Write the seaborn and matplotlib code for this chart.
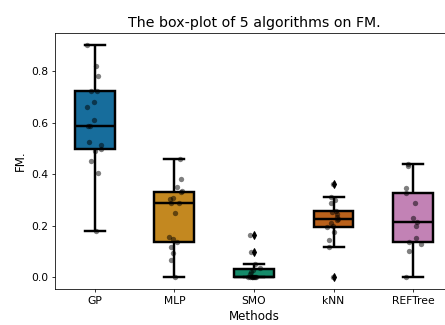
import numpy as np
import pandas as pd
import matplotlib
matplotlib.use("Agg")
import matplotlib.pyplot as plt
import seaborn as sns

methods = ["GP", "MLP", "SMO", "kNN", "REFTree"]
gp = [0.181, 0.403, 0.45, 0.488, 0.496, 0.514, 0.523, 0.585, 0.588, 0.61,
      0.66, 0.678, 0.722, 0.724, 0.78, 0.818, 0.902]
mlp = [0.0, 0.068, 0.093, 0.119, 0.136, 0.149, 0.155, 0.251, 0.287, 0.29,
       0.302, 0.309, 0.332, 0.335, 0.35, 0.383, 0.457]
smo = [0.0, 0.0, 0.0, 0.0, 0.0, 0.0, 0.0, 0.0, 0.012, 0.02, 0.03, 0.036,
       0.053, 0.1, 0.165]
knn = [0.0, 0.117, 0.146, 0.174, 0.195, 0.2, 0.21, 0.222, 0.228, 0.235,
       0.245, 0.252, 0.258, 0.287, 0.299, 0.311, 0.362]
reftree = [0.0, 0.104, 0.13, 0.136, 0.152, 0.2, 0.215, 0.232, 0.29, 0.326,
           0.347, 0.43, 0.441]

values = [gp, mlp, smo, knn, reftree]
df = pd.DataFrame({
    "Methods": [m for m, v in zip(methods, values) for _ in v],
    "FM.": [x for v in values for x in v],
})

np.random.seed(3)
DPI = 70
fig = plt.figure(figsize=(446 / DPI, 325 / DPI), dpi=DPI)
ax = fig.add_axes([55 / 446, 1 - 289 / 325, 398 / 446, 256 / 325])

sns.boxplot(data=df, x="Methods", y="FM.", hue="Methods", palette="colorblind",
            order=methods, width=0.5, linewidth=2.5, linecolor="black",
            flierprops={"marker": "d", "markerfacecolor": "black",
                        "markeredgecolor": "black", "markersize": 6},
            legend=False, ax=ax)
sns.stripplot(data=df, x="Methods", y="FM.", order=methods, color="black",
              alpha=0.5, size=5.5, jitter=0.1, ax=ax)

ax.set_title("The box-plot of 5 algorithms on FM.", fontsize=14.5)
ax.set_xlabel("Methods", fontsize=12.2)
ax.set_ylabel("FM.", fontsize=12.2)
ax.set_yticks([0.0, 0.2, 0.4, 0.6, 0.8])
ax.tick_params(labelsize=11)

fig.savefig("out.png", dpi=DPI)
